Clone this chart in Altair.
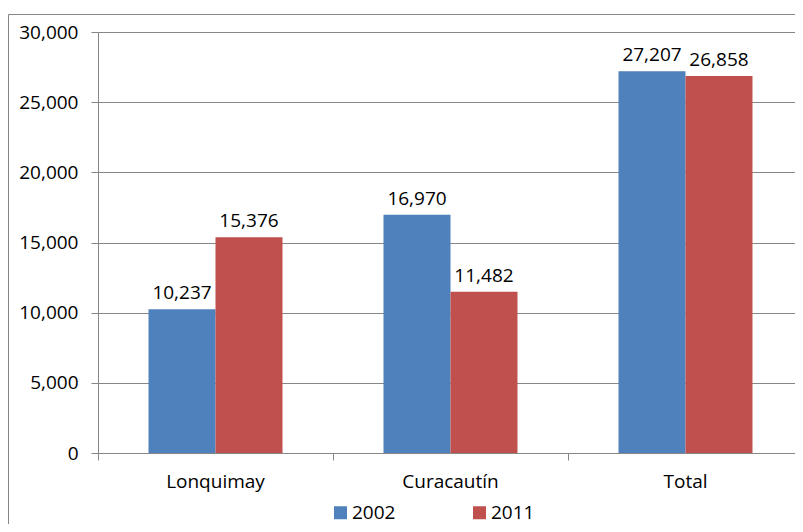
import altair as alt
import pandas as pd

categories = ["Lonquimay", "Curacautín", "Total"]
years = ["2002", "2011"]
values_2002 = [10237, 16970, 27207]
values_2011 = [15376, 11482, 26858]
y_ticks = [0, 5000, 10000, 15000, 20000, 25000, 30000]
colors = ["#4F81BD", "#C0504D"]

rows = []
for c, a, b in zip(categories, values_2002, values_2011):
    rows.append({"Comuna": c, "Año": "2002", "Personas": a})
    rows.append({"Comuna": c, "Año": "2011", "Personas": b})
df = pd.DataFrame(rows)

FONT = "Open Sans"
GREY = "#868686"

x_enc = alt.X(
    "Comuna:N",
    sort=categories,
    title=None,
    scale=alt.Scale(range=[0, 705], paddingInner=0, paddingOuter=0),
    axis=alt.Axis(
        bandPosition=0,
        labelAngle=0,
        tickSize=7,
        tickColor=GREY,
        domainColor=GREY,
        labelPadding=12,
        labelFontSize=19,
        labelFont=FONT,
        labelColor="#000000",
        grid=False,
    ),
)
xoff_enc = alt.XOffset(
    "Año:N", sort=years, scale=alt.Scale(paddingInner=0, paddingOuter=0.754)
)
y_enc = alt.Y(
    "Personas:Q",
    title=None,
    scale=alt.Scale(domain=[0, 30000], nice=False),
    axis=alt.Axis(
        values=y_ticks,
        format=",.0f",
        tickSize=7,
        tickColor=GREY,
        domainColor=GREY,
        gridColor=GREY,
        gridOpacity=1,
        labelPadding=13,
        labelFontSize=19,
        labelFont=FONT,
        labelColor="#000000",
    ),
)

base = alt.Chart(df).encode(x=x_enc, xOffset=xoff_enc, y=y_enc)

bars = base.mark_bar(size=67).encode(
    color=alt.Color(
        "Año:N",
        sort=years,
        scale=alt.Scale(domain=years, range=colors),
        legend=alt.Legend(
            title=None,
            orient="none",
            direction="horizontal",
            legendX=233,
            legendY=471,
            symbolType="square",
            symbolSize=169,
            symbolStrokeWidth=0,
            labelFontSize=19,
            labelFont=FONT,
            labelColor="#000000",
            labelOffset=2,
            columnPadding=74,
            padding=0,
        ),
    )
)

labels = base.mark_text(
    baseline="bottom", dy=-6, fontSize=19, font=FONT, color="#000000"
).encode(text=alt.Text("Personas:Q", format=",.0f"))

border = alt.Chart(pd.DataFrame({"b": [0]})).mark_rect(
    fillOpacity=0, stroke=GREY, strokeWidth=1
).encode(
    x=alt.value(-89.5), x2=alt.value(900), y=alt.value(-17.5), y2=alt.value(700)
)

chart = (
    alt.layer(border, bars, labels)
    .properties(
        width=697,
        height=421,
        autosize=alt.AutoSizeParams(type="none"),
        padding={"left": 90, "top": 24, "right": 0, "bottom": 71},
    )
    .configure_view(stroke=None)
    .configure(background="white")
)

chart.save("out.html", embed_options={"renderer": "svg", "actions": False})
